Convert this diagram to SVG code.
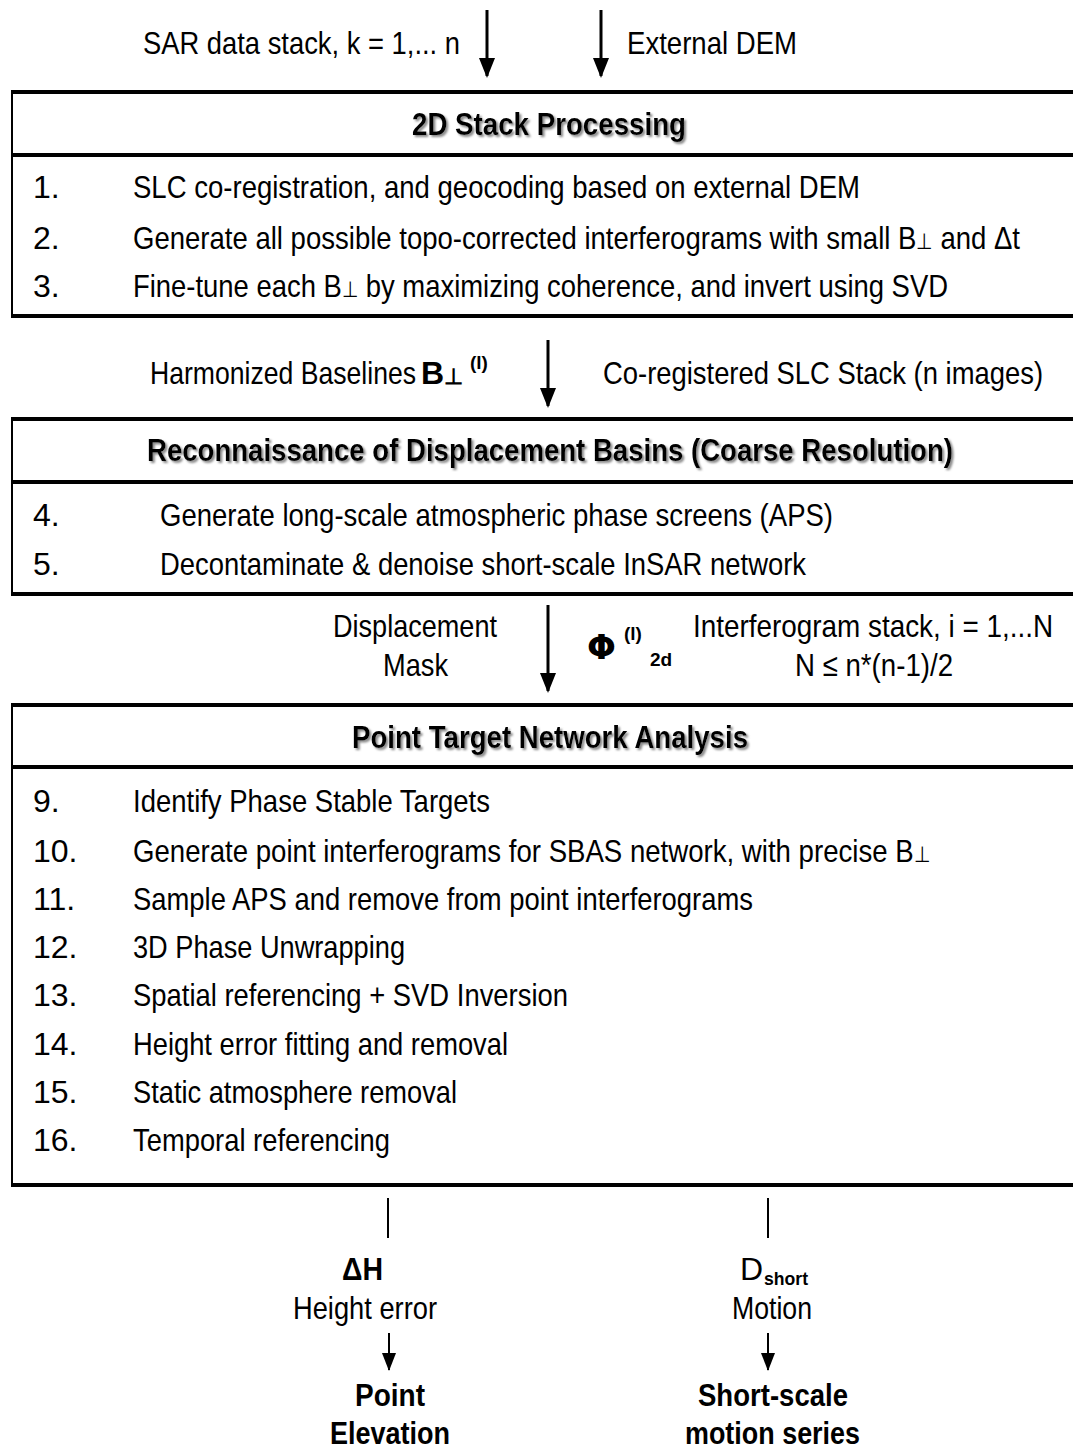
<svg xmlns="http://www.w3.org/2000/svg" width="1073" height="1448" viewBox="0 0 1073 1448">
<style>
text{font-family:"Liberation Sans",Arial,sans-serif;font-size:32px;fill:#000}
.b{font-weight:bold}
.t{font-weight:bold;font-size:31px;filter:url(#sh)}
.sm{font-size:19px;font-weight:bold}
.phi{font-family:"DejaVu Sans",sans-serif;font-weight:bold;font-size:34px}
.bx line{stroke:#000}
.thick{stroke-width:4}
.thin{stroke-width:2}
.conn line{stroke:#000;stroke-width:3}
.conn .ln{stroke-width:2}
</style>
<defs>
<filter id="sh" x="-5%" y="-30%" width="110%" height="160%">
<feDropShadow dx="2" dy="2" stdDeviation="1" flood-color="#888"/>
</filter>
<marker id="ah" markerUnits="userSpaceOnUse" markerWidth="20" markerHeight="18" refX="18" refY="9" orient="auto" viewBox="0 0 20 18">
<path d="M0,1 L20,9 L0,17 Z" fill="#000"/>
</marker>
<marker id="ahs" markerUnits="userSpaceOnUse" markerWidth="18" markerHeight="16" refX="17" refY="8" orient="auto" viewBox="0 0 18 16">
<path d="M0,1 L18,8 L0,15 Z" fill="#000"/>
</marker>
</defs>
<rect width="1073" height="1448" fill="#fff"/>

<g id="connectors" class="conn">
<line x1="487" y1="10" x2="487" y2="76" marker-end="url(#ah)"/>
<line x1="601" y1="10" x2="601" y2="76" marker-end="url(#ah)"/>
<line x1="548" y1="340" x2="548" y2="406" marker-end="url(#ah)"/>
<line x1="548" y1="605" x2="548" y2="691" marker-end="url(#ah)"/>
<line class="ln" x1="388" y1="1198" x2="388" y2="1238"/>
<line class="ln" x1="768" y1="1198" x2="768" y2="1238"/>
<line class="ln" x1="389" y1="1333" x2="389" y2="1370" marker-end="url(#ahs)"/>
<line class="ln" x1="768" y1="1333" x2="768" y2="1370" marker-end="url(#ahs)"/>
</g>

<g id="input-labels">
<text x="143" y="54" textLength="317" lengthAdjust="spacingAndGlyphs">SAR data stack, k = 1,... n</text>
<text x="627" y="54" textLength="170" lengthAdjust="spacingAndGlyphs">External DEM</text>
</g>

<g id="box-2d-stack" class="bx">
<line class="thick" x1="12" y1="92" x2="1073" y2="92"/>
<line class="thick" x1="12" y1="155" x2="1073" y2="155"/>
<line class="thick" x1="12" y1="316" x2="1073" y2="316"/>
<line class="thin" x1="12" y1="90" x2="12" y2="318"/>
<text class="t" x="412" y="135" textLength="274" lengthAdjust="spacingAndGlyphs">2D Stack Processing</text>
<text x="33" y="198">1.</text>
<text x="133" y="198" textLength="727" lengthAdjust="spacingAndGlyphs">SLC co-registration, and geocoding based on external DEM</text>
<text x="33" y="249">2.</text>
<text x="133" y="249" textLength="887" lengthAdjust="spacingAndGlyphs">Generate all possible topo-corrected interferograms with small B<tspan font-size="22">⊥</tspan> and Δt</text>
<text x="33" y="297">3.</text>
<text x="133" y="297" textLength="815" lengthAdjust="spacingAndGlyphs">Fine-tune each B<tspan font-size="22">⊥</tspan> by maximizing coherence, and invert using SVD</text>
</g>

<g id="mid-labels-1">
<text x="150" y="384" textLength="266" lengthAdjust="spacingAndGlyphs">Harmonized Baselines</text>
<text class="b" x="421" y="384">B<tspan font-size="22">⊥</tspan></text>
<text class="sm" x="470" y="369">(l)</text>
<text x="603" y="384" textLength="440" lengthAdjust="spacingAndGlyphs">Co-registered SLC Stack (n images)</text>
</g>

<g id="box-reconnaissance" class="bx">
<line class="thick" x1="12" y1="419" x2="1073" y2="419"/>
<line class="thick" x1="12" y1="482" x2="1073" y2="482"/>
<line class="thick" x1="12" y1="594" x2="1073" y2="594"/>
<line class="thin" x1="12" y1="417" x2="12" y2="596"/>
<text class="t" x="147" y="461" textLength="806" lengthAdjust="spacingAndGlyphs">Reconnaissance of Displacement Basins (Coarse Resolution)</text>
<text x="33" y="526">4.</text>
<text x="160" y="526" textLength="673" lengthAdjust="spacingAndGlyphs">Generate long-scale atmospheric phase screens (APS)</text>
<text x="33" y="575">5.</text>
<text x="160" y="575" textLength="646" lengthAdjust="spacingAndGlyphs">Decontaminate &amp; denoise short-scale InSAR network</text>
</g>

<g id="mid-labels-2">
<text x="333" y="637" textLength="164" lengthAdjust="spacingAndGlyphs">Displacement</text>
<text x="383" y="676" textLength="65" lengthAdjust="spacingAndGlyphs">Mask</text>
<text class="phi" x="587" y="659">Φ</text>
<text class="sm" x="624" y="640">(l)</text>
<text class="sm" x="650" y="666">2d</text>
<text x="693" y="637" textLength="360" lengthAdjust="spacingAndGlyphs">Interferogram stack, i = 1,...N</text>
<text x="795" y="676" textLength="158" lengthAdjust="spacingAndGlyphs">N ≤ n*(n-1)/2</text>
</g>

<g id="box-point-target" class="bx">
<line class="thick" x1="12" y1="705" x2="1073" y2="705"/>
<line class="thick" x1="12" y1="767" x2="1073" y2="767"/>
<line class="thick" x1="12" y1="1185" x2="1073" y2="1185"/>
<line class="thin" x1="12" y1="703" x2="12" y2="1187"/>
<text class="t" x="352" y="748" textLength="396" lengthAdjust="spacingAndGlyphs">Point Target Network Analysis</text>
<text x="33" y="812">9.</text>
<text x="133" y="812" textLength="357" lengthAdjust="spacingAndGlyphs">Identify Phase Stable Targets</text>
<text x="33" y="862">10.</text>
<text x="133" y="862" textLength="797" lengthAdjust="spacingAndGlyphs">Generate point interferograms for SBAS network, with precise B<tspan font-size="22">⊥</tspan></text>
<text x="33" y="910">11.</text>
<text x="133" y="910" textLength="620" lengthAdjust="spacingAndGlyphs">Sample APS and remove from point interferograms</text>
<text x="33" y="958">12.</text>
<text x="133" y="958" textLength="272" lengthAdjust="spacingAndGlyphs">3D Phase Unwrapping</text>
<text x="33" y="1006">13.</text>
<text x="133" y="1006" textLength="435" lengthAdjust="spacingAndGlyphs">Spatial referencing + SVD Inversion</text>
<text x="33" y="1055">14.</text>
<text x="133" y="1055" textLength="375" lengthAdjust="spacingAndGlyphs">Height error fitting and removal</text>
<text x="33" y="1103">15.</text>
<text x="133" y="1103" textLength="324" lengthAdjust="spacingAndGlyphs">Static atmosphere removal</text>
<text x="33" y="1151">16.</text>
<text x="133" y="1151" textLength="257" lengthAdjust="spacingAndGlyphs">Temporal referencing</text>
</g>

<g id="output-height">
<text class="b" x="342" y="1280" textLength="41" lengthAdjust="spacingAndGlyphs">ΔH</text>
<text x="293" y="1319" textLength="144" lengthAdjust="spacingAndGlyphs">Height error</text>
<text class="b" x="355" y="1406" textLength="70" lengthAdjust="spacingAndGlyphs">Point</text>
<text class="b" x="330" y="1444" textLength="120" lengthAdjust="spacingAndGlyphs">Elevation</text>
</g>

<g id="output-motion">
<text x="740" y="1280">D</text>
<text class="sm" x="764" y="1285" textLength="44" lengthAdjust="spacingAndGlyphs">short</text>
<text x="732" y="1319" textLength="80" lengthAdjust="spacingAndGlyphs">Motion</text>
<text class="b" x="698" y="1406" textLength="150" lengthAdjust="spacingAndGlyphs">Short-scale</text>
<text class="b" x="685" y="1444" textLength="175" lengthAdjust="spacingAndGlyphs">motion series</text>
</g>
</svg>
